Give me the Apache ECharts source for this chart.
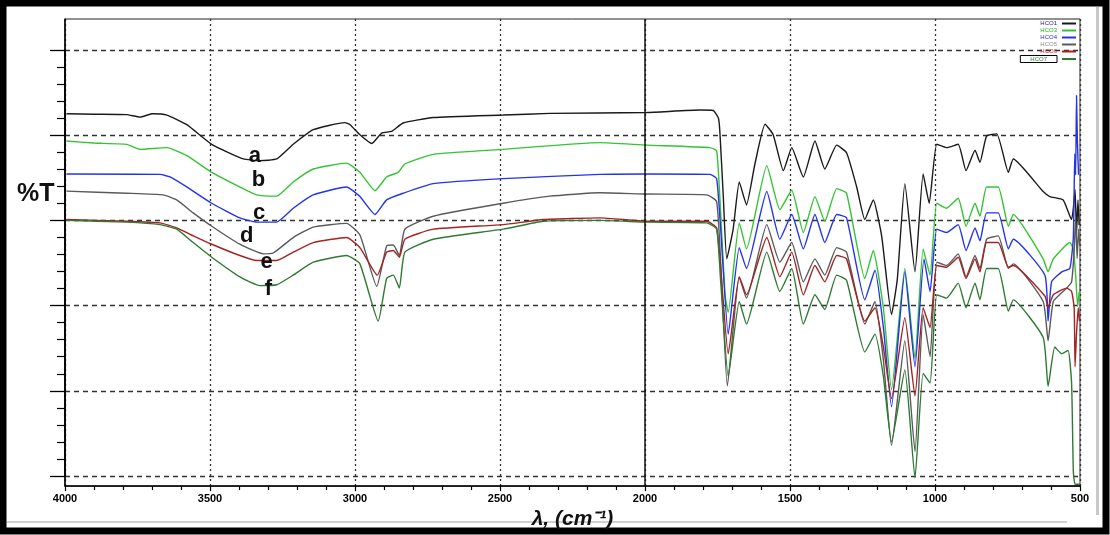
<html>
<head>
<meta charset="utf-8">
<title>FTIR spectra</title>
<script src="https://cdn.jsdelivr.net/npm/echarts@6/dist/echarts.min.js"></script>
<style>
    body { margin: 0; background: #fff; }
    #main { width: 1110px; height: 535px; }
</style>
</head>
<body>
<div id="main"></div>
<script>
    // legend names and line colours, curves a..f
    var seriesNames = ['HCO1', 'HCO3', 'HCO4', 'HCO5', 'HCO6', 'HCO7'];
    var seriesColors = ['#1a1a1a', '#33c433', '#2233ee', '#5a5a5a', '#a52222', '#2e7a32'];
    var legendTextColors = ['#22229a', '#20b020', '#2a2ae0', '#8a8a8a', '#d02020', '#2e7a32'];

    // x ticks (wavenumber, cm-1)
    var xTicks = [4000, 3500, 3000, 2500, 2000, 1500, 1000, 500];

    // [wavenumber, %T]
    var curveA = [[3995, 84.6], [3900, 84.5], [3787, 84.4], [3741, 83.8], [3700, 84.6], [3649, 84.3], [3580, 82.0],
        [3494, 77.3], [3385, 73.8], [3328, 73.4],
        [3270, 73.8], [3213, 77.3], [3144, 80.8], [3035, 82.5], [3017, 82.0], [2983, 79.6], [2942, 77.5], [2908, 80.0],
        [2874, 80.4], [2834, 82.4], [2730, 83.7], [2489, 84.3], [2328, 84.7], [1994, 84.9], [1810, 85.5], [1765, 85.4],
        [1747, 83.6], [1742, 80.5], [1730, 64.8], [1718, 49.9], [1696, 57.0], [1675, 68.3], [1650, 62.8], [1621, 72.6],
        [1586, 82.1], [1558, 79.6], [1523, 71.0], [1494, 76.5], [1454, 69.5], [1414, 78.1], [1380, 71.4], [1339, 77.1],
        [1305, 75.3], [1270, 67.1], [1242, 59.3], [1213, 64.0], [1184, 55.4], [1150, 36.6], [1130, 45.0], [1104, 67.9],
        [1069, 46.8], [1041, 70.2], [1020, 63.2], [994, 77.3], [960, 76.5], [920, 77.3], [893, 71.0], [862, 75.9],
        [845, 73.0], [822, 79.3], [787, 79.8], [747, 70.6], [730, 73.8], [627, 66.0], [604, 64.8], [558, 64.0],
        [529, 59.3], [523, 62.0], [517, 66.5], [512, 56.0], [507, 64.0], [503, 58.0]];

    var curveB = [[3995, 78.1], [3900, 77.6], [3787, 77.3], [3741, 76.1], [3649, 76.5], [3580, 74.6], [3494, 70.6],
        [3420, 67.9], [3339, 65.2], [3270, 64.9], [3213, 68.3], [3144, 71.4], [3029, 72.8], [2983, 70.6], [2931, 66.2],
        [2891, 69.5], [2851, 70.6], [2828, 72.6], [2730, 74.9], [2489, 76.1], [2155, 77.7], [1994, 77.1], [1776, 76.5],
        [1753, 75.7], [1742, 64.8], [1724, 41.3], [1713, 37.1], [1675, 58.5], [1650, 52.3], [1580, 72.2], [1535, 61.7],
        [1494, 66.3], [1454, 56.2], [1414, 64.8], [1380, 58.9], [1339, 66.7], [1305, 65.6], [1242, 45.2], [1213, 51.9],
        [1178, 38.2], [1150, 18.6], [1104, 47.6], [1069, 26.1], [1041, 52.3], [1017, 46.0], [994, 63.2], [960, 62.0],
        [920, 64.4], [893, 57.7], [862, 63.2], [845, 60.1], [822, 67.1], [782, 67.1], [747, 57.7], [730, 60.5],
        [627, 49.9], [610, 46.8], [592, 49.9], [535, 53.8], [523, 52.3], [515, 46.0], [508, 38.5], [503, 42.0]];

    var curveC = [[3995, 70.2], [3672, 70.1], [3638, 69.5], [3580, 67.1], [3494, 63.2], [3397, 59.7], [3339, 58.7],
        [3270, 58.7], [3213, 62.0], [3144, 65.2], [3029, 67.1], [2983, 64.8], [2931, 60.5], [2891, 64.0], [2834, 65.6],
        [2730, 67.9], [2489, 69.1], [2155, 70.1], [1994, 70.2], [1776, 70.1], [1753, 69.1], [1739, 57.0], [1713, 31.9],
        [1675, 52.6], [1650, 47.6], [1580, 66.0], [1535, 54.6], [1494, 60.5], [1454, 52.3], [1414, 60.5], [1380, 53.8],
        [1339, 60.5], [1305, 59.7], [1242, 40.1], [1207, 47.2], [1178, 33.5], [1150, 14.5], [1104, 46.8], [1069, 24.1],
        [1038, 49.9], [1017, 42.1], [994, 57.0], [960, 56.2], [920, 58.1], [893, 51.9], [862, 57.3], [845, 54.2],
        [822, 60.9], [782, 60.9], [747, 52.3], [730, 54.6], [621, 46.0], [610, 35.0], [598, 44.4], [563, 46.8],
        [535, 47.6], [523, 55.0], [518, 75.0], [515, 70.0], [512, 89.0], [509, 78.0], [505, 70.0]];

    var curveD = [[3995, 66.1], [3787, 65.6], [3661, 65.2], [3615, 64.0], [3558, 60.9], [3494, 57.7], [3397, 53.4],
        [3316, 51.1], [3282, 51.3], [3213, 55.0], [3144, 57.5], [3029, 58.4], [2983, 55.6], [2925, 43.3], [2891, 53.0],
        [2868, 53.2], [2847, 50.7], [2828, 57.0], [2730, 60.1], [2489, 63.2], [2328, 64.9], [2155, 65.7], [1994, 65.4],
        [1787, 65.2], [1753, 63.6], [1739, 49.1], [1716, 19.5], [1675, 45.6], [1650, 40.5], [1580, 58.1], [1535, 49.1],
        [1494, 53.8], [1454, 44.4], [1414, 49.9], [1380, 46.0], [1339, 52.6], [1305, 51.5], [1242, 34.3], [1207, 39.7],
        [1178, 25.7], [1150, 5.3], [1104, 30.3], [1069, 3.8], [1041, 36.6], [1017, 26.5], [994, 49.1], [960, 48.3],
        [920, 51.1], [893, 45.6], [862, 50.7], [845, 47.6], [822, 54.6], [782, 55.4], [747, 47.6], [730, 48.7],
        [627, 39.7], [610, 30.3], [592, 39.7], [546, 42.9], [529, 44.4], [520, 52.0], [515, 60.0], [510, 50.0],
        [505, 57.0], [501, 53.0]];

    var curveE = [[3995, 59.3], [3787, 58.9], [3672, 58.5], [3615, 57.3], [3558, 55.4], [3494, 53.4], [3397, 50.7],
        [3339, 49.5], [3270, 49.5], [3213, 51.5], [3144, 53.8], [3029, 55.0], [2983, 52.6], [2923, 46.0], [2891, 51.5],
        [2868, 51.9], [2847, 50.3], [2828, 54.6], [2730, 57.0], [2489, 58.1], [2351, 59.3], [2155, 59.7], [1994, 58.9],
        [1787, 58.9], [1753, 57.3], [1739, 47.6], [1713, 27.2], [1675, 45.6], [1650, 41.3], [1580, 55.0], [1535, 45.6],
        [1494, 51.5], [1454, 41.3], [1414, 48.3], [1380, 44.4], [1339, 50.7], [1305, 49.9], [1242, 35.0], [1207, 38.2],
        [1178, 28.8], [1150, 16.5], [1104, 35.8], [1069, 17.1], [1041, 38.2], [1017, 33.5], [994, 48.3], [960, 47.9],
        [920, 50.3], [893, 45.2], [862, 49.9], [845, 46.8], [822, 53.8], [782, 53.8], [747, 47.9], [730, 48.3],
        [621, 41.0], [610, 38.2], [592, 41.3], [546, 42.9], [529, 42.1], [520, 38.0], [517, 24.1], [512, 32.0],
        [506, 38.2], [502, 35.0]];

    var curveF = [[3995, 59.1], [3787, 58.7], [3672, 58.1], [3615, 57.0], [3558, 53.8], [3494, 50.3], [3397, 45.6],
        [3328, 43.5], [3270, 43.7], [3213, 46.0], [3144, 49.1], [3029, 50.7], [2983, 48.7], [2920, 35.0], [2891, 45.2],
        [2868, 46.0], [2847, 42.9], [2828, 51.5], [2730, 54.6], [2489, 57.0], [2351, 58.9], [2155, 59.1], [1994, 58.7],
        [1787, 58.5], [1753, 57.0], [1739, 44.4], [1713, 21.8], [1675, 39.7], [1650, 34.3], [1580, 51.5], [1535, 42.1],
        [1494, 47.6], [1454, 34.3], [1414, 41.3], [1380, 37.8], [1339, 46.0], [1305, 44.8], [1242, 27.6], [1207, 31.9],
        [1178, 21.8], [1150, 6.1], [1104, 23.3], [1069, -2.5], [1041, 22.5], [1017, 20.2], [994, 41.3], [960, 40.5],
        [920, 44.1], [893, 38.2], [862, 44.1], [845, 40.1], [822, 47.6], [782, 47.6], [747, 37.4], [730, 40.1],
        [627, 31.1], [610, 19.4], [587, 28.8], [563, 27.2], [541, 28.0], [529, 20.2], [523, -0.9], [517, -4.0],
        [500, -4.0]];

    var curves = [curveA, curveB, curveC, curveD, curveE, curveF];

    // curve letters and where they sit [wavenumber, %T]
    var letters = ['a', 'b', 'c', 'd', 'e', 'f'];
    var letterPos = [[3345, 74.6], [3333, 68.7], [3331, 60.8], [3373, 55.4], [3305, 49.1], [3299, 42.8]];

    var chart = echarts.init(document.getElementById('main'));

    var series = curves.map(function (c, i) {
        return {
            name: seriesNames[i],
            type: 'line',
            xAxisIndex: 0,
            yAxisIndex: 0,
            data: c,
            showSymbol: false,
            smooth: 0.15,
            lineStyle: { color: seriesColors[i], width: 1.4 },
            itemStyle: { color: seriesColors[i] },
            z: 3
        };
    });

    // solid line at 2000 cm-1
    series[0].markLine = {
        silent: true,
        symbol: 'none',
        label: { show: false },
        lineStyle: { color: '#111', type: 'solid', width: 1.5 },
        data: [{ xAxis: xTicks[4] }]
    };

    series.push({
        type: 'scatter',
        xAxisIndex: 0,
        yAxisIndex: 0,
        symbolSize: 1,
        silent: true,
        itemStyle: { opacity: 1, color: 'rgba(0,0,0,0)' },
        data: letterPos.map(function (p, i) { return [p[0], p[1], letters[i]]; }),
        label: {
            show: true,
            position: 'inside',
            formatter: function (p) { return p.value[2]; },
            fontSize: 22,
            fontWeight: 'bold',
            fontFamily: 'Liberation Sans',
            color: '#111',
            opacity: 1
        },
        z: 5
    });

    var legendData = seriesNames.map(function (n, i) {
        var item = { name: n, textStyle: { color: legendTextColors[i] } };
        if (i == 5) {
            item.textStyle.borderColor = '#000';
            item.textStyle.borderWidth = 1;
            item.textStyle.padding = [0, 10, 0, 10];
        }
        return item;
    });

    var option = {
        animation: false,
        backgroundColor: '#fff',
        title: {
            text: '%T',
            left: 12,
            top: 177,
            textStyle: { fontSize: 25, fontWeight: 'bold', fontFamily: 'Liberation Sans', color: '#111' }
        },
        legend: {
            data: legendData,
            orient: 'vertical',
            right: 34,
            top: 20,
            align: 'right',
            icon: 'rect',
            itemWidth: 14,
            itemHeight: 2,
            itemGap: 0,
            padding: 0,
            textStyle: { fontSize: 6, lineHeight: 7, fontFamily: 'Liberation Sans' }
        },
        grid: [
            { left: 65, right: 30, top: 19, height: 476, show: true, borderColor: '#222', borderWidth: 1 },
            { left: 65, right: 30, top: 50, height: 426 }
        ],
        xAxis: [
            {
                gridIndex: 0,
                type: 'value',
                min: 500,
                max: 4000,
                interval: 500,
                inverse: true,
                axisLine: { show: true, onZero: false, lineStyle: { color: '#000', width: 1.5 } },
                axisTick: { show: true, length: 5, lineStyle: { color: '#000', width: 1.2 } },
                minorTick: { show: true, splitNumber: 5, length: 4, lineStyle: { color: '#000', width: 1.2 } },
                axisLabel: {
                    fontSize: 11, fontWeight: 'bold', color: '#000', margin: 7, fontFamily: 'Liberation Sans',
                    formatter: function (v) { return String(v); }
                },
                splitLine: { show: true, lineStyle: { type: [2, 3], color: '#333', width: 1.3 } },
                name: 'λ, (cm⁻¹)',
                nameLocation: 'middle',
                nameGap: 8,
                nameTextStyle: { fontSize: 21, fontWeight: 'bold', fontStyle: 'italic', fontFamily: 'Liberation Sans', color: '#111' }
            },
            { gridIndex: 1, type: 'value', min: 500, max: 4000, inverse: true, show: false }
        ],
        yAxis: [
            {
                gridIndex: 0,
                type: 'value',
                min: -4.46,
                max: 107.28,
                axisLine: { show: true, lineStyle: { color: '#000', width: 1.5 } },
                axisTick: { show: false },
                axisLabel: { show: false },
                splitLine: { show: false }
            },
            {
                gridIndex: 1,
                type: 'value',
                min: 0,
                max: 100,
                interval: 20,
                axisLine: { show: true, lineStyle: { color: '#000', width: 1.5 } },
                axisTick: { show: true, length: 15, lineStyle: { color: '#000', width: 1.3 } },
                minorTick: { show: true, splitNumber: 5, length: 8, lineStyle: { color: '#000', width: 1.2 } },
                axisLabel: { show: false },
                splitLine: { show: true, lineStyle: { type: [5, 4], color: '#333', width: 1.3 } }
            }
        ],
        graphic: [
            { type: 'rect', shape: { x: 3, y: 3, width: 1103, height: 528 }, style: { fill: 'none', stroke: '#000', lineWidth: 7 }, silent: true },
            { type: 'rect', shape: { x: 1096, y: 7, width: 3, height: 508 }, style: { fill: '#c8c8c8' }, silent: true },
            { type: 'rect', shape: { x: 7, y: 521, width: 1060, height: 2 }, style: { fill: '#d0d0d0' }, silent: true }
        ],
        series: series
    };

    chart.setOption(option);
</script>
</body>
</html>
